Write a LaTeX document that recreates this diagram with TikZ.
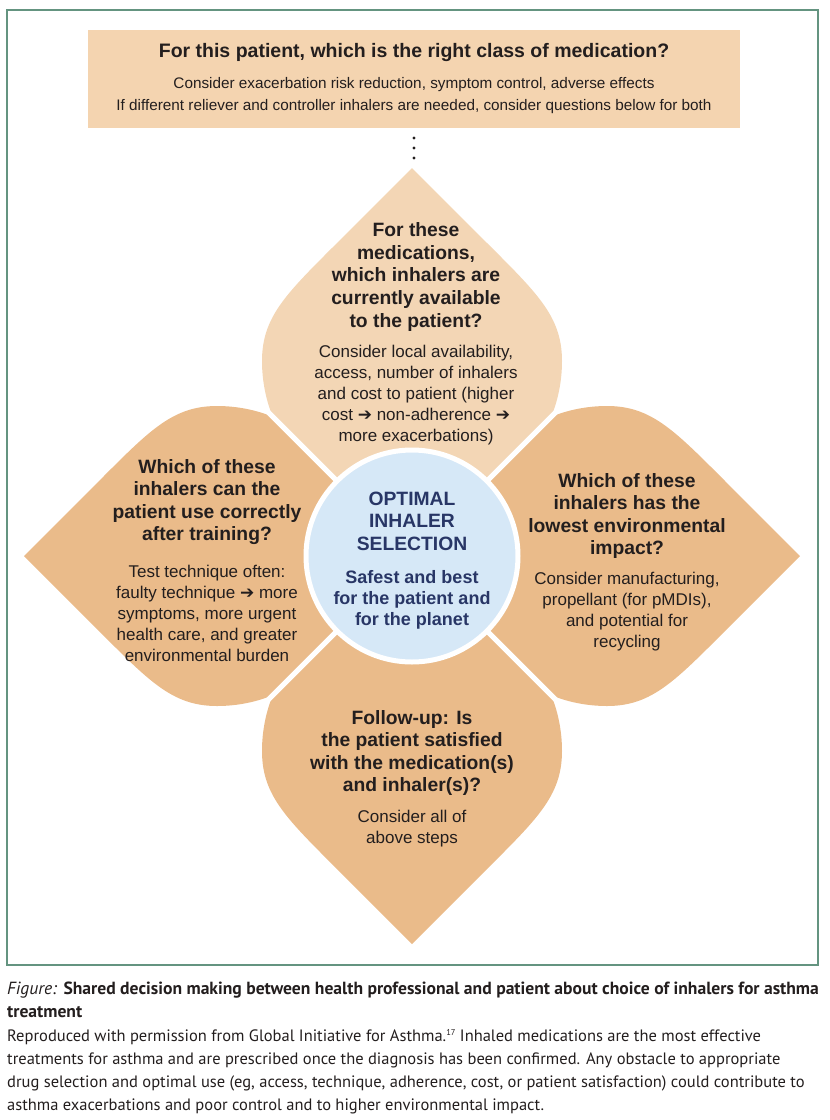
\documentclass[tikz,border=0pt]{standalone}
\usepackage{fontspec}
\setmainfont{Liberation Sans}
\newfontfamily\capfont{PT Sans}
\newfontfamily\arrowfont{DejaVu Sans}
\usetikzlibrary{positioning}
\definecolor{boxpeach}{RGB}{244,212,176}
\definecolor{petallight}{RGB}{243,214,181}
\definecolor{petaldark}{RGB}{234,187,138}
\definecolor{hubblue}{RGB}{214,232,247}
\definecolor{hubtext}{RGB}{40,54,102}
\definecolor{framegreen}{RGB}{100,148,128}
\definecolor{ink}{RGB}{35,30,30}
\newcommand{\fwdarrow}{{\arrowfont ➔}}

\tikzset{
  head/.style={font=\fontsize{19.3}{22.6}\selectfont\bfseries, align=center, text=ink, inner sep=0pt},
  body/.style={font=\fontsize{17}{21}\selectfont, align=center, text=ink, inner sep=0pt},
  hubhead/.style={head, text=hubtext},
  hubbody/.style={font=\fontsize{18}{21}\selectfont\bfseries, align=center, text=hubtext, inner sep=0pt},
}

\begin{document}
\begin{tikzpicture}[x=1pt, y=-1pt]
  \useasboundingbox (0,0) rectangle (830,1120);
  % outer frame
  \draw[framegreen, line width=1.3pt] (7,10) rectangle (818,965);

  % top box
  \node[fill=boxpeach, minimum width=652pt, minimum height=98pt, inner sep=0pt] (classbox) at (414,79) {};
  \node[font=\fontsize{19.5}{22}\selectfont\bfseries, text=ink, inner sep=0pt] (classq) at (414,52)
    {For this patient, which is the right class of medication?};
  \node[font=\fontsize{15.3}{22}\selectfont, text=ink, align=center, inner sep=0pt] (classc) at (414,96)
    {Consider exacerbation risk reduction, symptom control, adverse effects\\
     If different reliever and controller inhalers are needed, consider questions below for both};

  % dots
  \foreach \y in {138,148,158}
    \fill[ink] (414,\y) circle (1.6pt);

  % petals, each kept to its own quarter
  \foreach \ang/\col in {0/petallight, 90/petaldark, 180/petaldark, 270/petaldark}{
    \begin{scope}[shift={(412,556)}, x=1pt, y=1pt, rotate=\ang]
      \clip (0,0) -- (600,600) -- (-600,600) -- cycle;
      \fill[\col] (0,388) -- (-72,316) .. controls (-125,263) and (-150,240) .. (-150,195)
        arc[start angle=180, end angle=360, radius=150]
        .. controls (150,240) and (125,263) .. (72,316) -- cycle;
    \end{scope}
  }
  \coordinate (mid) at (412,556);
  \foreach \a in {45,135,225,315}
    \draw[white, line width=5pt] (mid) -- ++(\a:240);

  % centre circle
  \node[circle, fill=hubblue, draw=white, line width=5pt, minimum size=212pt] (hub) at (mid) {};
  \node[hubhead] (hubq) at (412,521) {OPTIMAL\\INHALER\\SELECTION};
  \node[hubbody] (hubc) at (412,600) {Safest and best\\for the patient and\\for the planet};

  % top petal
  \node[head] (availq) at (416,277) {For these\\medications,\\which inhalers are\\currently available\\to the patient?};
  \node[body] (availc) at (416,395) {Consider local availability,\\access, number of inhalers\\and cost to patient (higher\\cost \fwdarrow{} non-adherence \fwdarrow\\more exacerbations)};

  % left petal
  \node[head] (useq) at (207,502) {Which of these\\inhalers can the\\patient use correctly\\after training?};
  \node[body] (usec) at (207,613) {Test technique often:\\faulty technique \fwdarrow{} more\\symptoms, more urgent\\health care, and greater\\environmental burden};

  % right petal
  \node[head] (envq) at (627,516) {Which of these\\inhalers has the\\lowest environmental\\impact?};
  \node[body] (envc) at (627,612) {Consider manufacturing,\\propellant (for pMDIs),\\and potential for\\recycling};

  % bottom petal
  \node[head] (followq) at (412,753) {Follow-up: Is\\the patient satisfied\\with the medication(s)\\and inhaler(s)?};
  \node[body] (followc) at (412,829) {Consider all of\\above steps};

  % caption
  \node[anchor=north west, inner sep=0pt, align=left, text=ink,
        font=\capfont\fontsize{16.5}{23.2}\selectfont] (caption) at (7,982)
    {{\fontsize{17.6}{23.2}\selectfont\textit{Figure:} \textbf{Shared decision making between health professional and patient about choice of inhalers for asthma}}\\
     {\fontsize{17.6}{23.2}\selectfont\textbf{treatment}}\\
     Reproduced with permission from Global Initiative for Asthma.{\fontsize{8.5}{9}\selectfont\raisebox{5.5pt}{17}} Inhaled medications are the most effective\\
     treatments for asthma and are prescribed once the diagnosis has been confirmed. Any obstacle to appropriate\\
     drug selection and optimal use (eg, access, technique, adherence, cost, or patient satisfaction) could contribute to\\
     asthma exacerbations and poor control and to higher environmental impact.};
\end{tikzpicture}
\end{document}
